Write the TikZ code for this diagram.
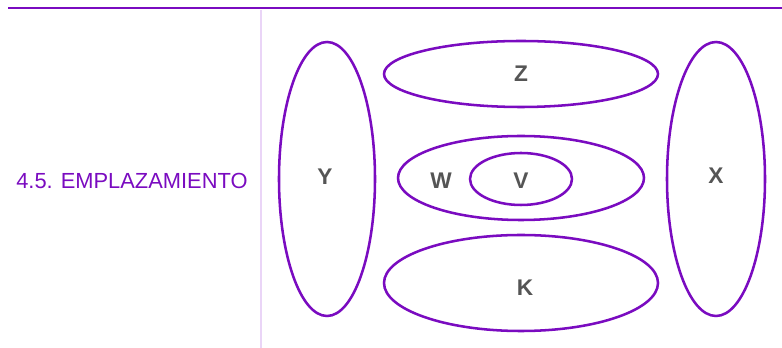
\documentclass[tikz,border=0pt]{standalone}
\usepackage{fontspec}
\setmainfont{Liberation Sans}
\usetikzlibrary{shapes.geometric}
\definecolor{purp}{HTML}{7A0BC0}
\definecolor{lpurp}{HTML}{EAD5F7}
\definecolor{lab}{HTML}{555555}
\begin{document}
\begin{tikzpicture}[x=0.75pt,y=-0.75pt,
  ell/.style={draw=purp,line width=1.9pt,ellipse,inner sep=0pt},
  lbl/.style={text=lab,font=\fontsize{17pt}{19pt}\selectfont\bfseries,inner sep=0pt}]
\useasboundingbox (0,0) rectangle (782,348);
\coordinate (tl) at (8,8);
\coordinate (tr) at (782,8);
\draw[purp,line width=1.8pt] (tl) -- (tr);
\coordinate (vt) at (261,10);
\coordinate (vb) at (261,348);
\draw[lpurp,line width=1.6pt] (vt) -- (vb);
\node[text=purp,font=\fontsize{16.4pt}{18pt}\selectfont,anchor=west,inner sep=0pt] (title) at (16,181) {4.5. EMPLAZAMIENTO};
\node[ell,minimum width=96*0.75pt,minimum height=274*0.75pt] (Y) at (327,179) {};
\node[ell,minimum width=274*0.75pt,minimum height=66*0.75pt] (Z) at (521,74) {};
\node[ell,minimum width=246*0.75pt,minimum height=84*0.75pt] (W) at (521,178) {};
\node[ell,minimum width=102*0.75pt,minimum height=52*0.75pt] (V) at (521,179) {};
\node[ell,minimum width=274*0.75pt,minimum height=96*0.75pt] (K) at (521,283) {};
\node[ell,minimum width=98*0.75pt,minimum height=274*0.75pt] (X) at (716,179) {};
\node[lbl] (lZ) at (521,74) {Z};
\node[lbl] (lY) at (325,177) {Y};
\node[lbl] (lW) at (441,181) {W};
\node[lbl] (lV) at (521,181) {V};
\node[lbl] (lK) at (525,288) {K};
\node[lbl] (lX) at (716,176) {X};
\end{tikzpicture}
\end{document}
